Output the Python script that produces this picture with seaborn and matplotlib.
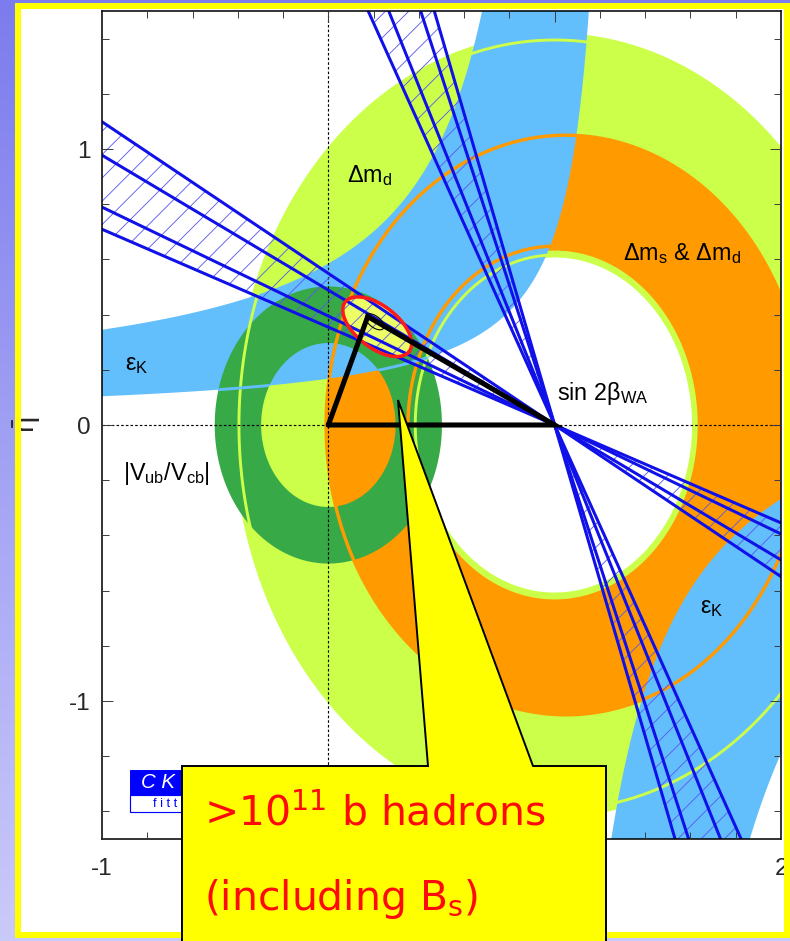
import numpy as np
import pandas as pd
import matplotlib
matplotlib.use("Agg")
import matplotlib.pyplot as plt
import seaborn as sns
from matplotlib.colors import LinearSegmentedColormap
from matplotlib.patches import PathPatch, Polygon, Rectangle
from matplotlib.path import Path
from matplotlib.ticker import FixedLocator, FixedFormatter, MultipleLocator

# ---------------------------------------------------------------------------
# Plane ranges and ticks
# ---------------------------------------------------------------------------
RHO_RANGE = (-1.0, 2.0)
ETA_RANGE = (-1.5, 1.5)
RHO_TICKS = [-1, 0, 1, 2]
RHO_TICK_LABELS = ["-1", "", "", "2"]   # 0 and 1 sit under the callout box
ETA_TICKS = [-1, 0, 1]
ETA_TICK_LABELS = ["-1", "0", "1"]
MINOR_STEP = 0.2

# Delta m_d annulus around (1, 0) and its contour lines
DMD_CENTRE = (1.0, 0.0)
DMD_RADII = (0.607, 1.42)
DMD_LINE_RADII = [0.616, 1.395]

# Delta m_s & Delta m_d: hole centred on (1, 0), elliptic outer boundary
DMS_HOLE_CENTRE = (1.0, 0.0)
DMS_HOLE_RADIUS = 0.632
DMS_OUTER_CENTRE = (1.05, 0.0)
DMS_OUTER_SEMIAXES = (1.06, 1.05)
DMS_LINE_RADIUS = 0.648

# |Vub/Vcb| annulus around the origin
VUB_CENTRE = (0.0, 0.0)
VUB_RADII = (0.297, 0.502)

# epsilon_K band edges, each  eta = c + k / (rho0 - rho)
EPSK_UPPER_EDGE = (0.095, 0.511, 1.043)
EPSK_LOWER_EDGE = (0.0224, 0.186, 1.277)
EPSK_SOUTH_UPPER = (0.30, 0.623, 0.904)
EPSK_SOUTH_LOWER = (0.30, 1.192, 1.200)

# sin 2beta world average: 2 sigma / 1 sigma limits
SIN2BETA_LIMITS = [0.630, 0.683, 0.789, 0.844]

# global fit: apex of the triangle and confidence contours
APEX = (0.174, 0.393)
FIT_CENTRE = (0.216, 0.356)
FIT_AXIS_A = (0.141, -0.090)
FIT_AXIS_B = (-0.057, -0.060)
CORE_CENTRE = (0.205, 0.374)
CORE_SCALE = 0.27

# ---------------------------------------------------------------------------
# Colours
# ---------------------------------------------------------------------------
LIGHT_GREEN = "#CCFF4A"
SKY = "#63BEFC"
ORANGE = "#FF9A00"
DARK_GREEN = "#37A947"
WEDGE_BLUE = "#1010E8"
HATCH_BLUE = "#5A5AEE"
FIT_FILL = "#EEFF66"
FIT_EDGE = "#FF1A1A"
CALLOUT_RED = "#FF0A0A"

sns.set_theme(style="ticks")
plt.rcParams.update({
    "font.family": ["Liberation Sans", "DejaVu Sans"],
    "mathtext.fontset": "custom",
    "mathtext.rm": "Liberation Sans",
    "mathtext.it": "Liberation Sans:italic",
    "mathtext.bf": "Liberation Sans:bold",
    "axes.unicode_minus": False,
    "hatch.linewidth": 0.9,
})


def ellipse_pts(centre, a, b, n=720):
    t = np.linspace(0.0, 2.0 * np.pi, n, endpoint=False)
    return np.column_stack([centre[0] + a * np.cos(t), centre[1] + b * np.sin(t)])


def closed(xy):
    return Path(np.vstack([xy, xy[:1]]), closed=True)


def ring_patch(outer, inner, **kw):
    return PathPatch(Path.make_compound_path(closed(outer), closed(inner[::-1])), **kw)


def edge_eta(params, rho):
    c, k, r0 = params
    return c + k / (r0 - rho)


def edge_rho(params, eta):
    c, k, r0 = params
    return r0 - k / (eta - c)


def contour_pts(centre, axis_a, axis_b, scale=1.0, n=360):
    t = np.linspace(0.0, 2.0 * np.pi, n)
    a = np.asarray(axis_a) * scale
    b = np.asarray(axis_b) * scale
    return (centre[0] + np.cos(t) * a[0] + np.sin(t) * b[0],
            centre[1] + np.cos(t) * a[1] + np.sin(t) * b[1])


def draw_loop(ax, pts, **kw):
    ax.plot(np.r_[pts[:, 0], pts[:1, 0]], np.r_[pts[:, 1], pts[:1, 1]], **kw)


DPI = 70
W, H = 790, 941
fig = plt.figure(figsize=(W / DPI, H / DPI), dpi=DPI)

# slide background
bg = fig.add_axes([0, 0, 1, 1], zorder=-10)
bg.imshow(np.linspace(0, 1, 256)[:, None], aspect="auto", extent=[0, 1, 0, 1],
          cmap=LinearSegmentedColormap.from_list("slide", ["#7C7CEE", "#CACAFA"]))
bg.set_xlim(0, 1)
bg.set_ylim(0, 1)
bg.set_axis_off()
bg.add_patch(Rectangle((15 / W, 3 / H), 1.0, 935 / H, facecolor="white",
                       edgecolor="none", zorder=3))

ax = fig.add_axes([102 / W, (H - 839) / H, 679 / W, 828 / H])
ax.set_facecolor("white")

lo_r, hi_r = RHO_RANGE[0] - 0.1, RHO_RANGE[1] + 0.1
lo_e, hi_e = ETA_RANGE[0] - 0.1, ETA_RANGE[1] + 0.1

# --- Delta m_d -------------------------------------------------------------
ax.add_patch(ring_patch(ellipse_pts(DMD_CENTRE, DMD_RADII[1], DMD_RADII[1]),
                        ellipse_pts(DMD_CENTRE, DMD_RADII[0], DMD_RADII[0]),
                        facecolor=LIGHT_GREEN, edgecolor="none", zorder=1))

# --- Delta m_s & Delta m_d -------------------------------------------------
ax.add_patch(ring_patch(ellipse_pts(DMS_OUTER_CENTRE, *DMS_OUTER_SEMIAXES),
                        ellipse_pts(DMS_HOLE_CENTRE, DMS_HOLE_RADIUS, DMS_HOLE_RADIUS),
                        facecolor=ORANGE, edgecolor="none", zorder=2))

# --- epsilon_K -------------------------------------------------------------
rho_u = np.linspace(lo_r, edge_rho(EPSK_UPPER_EDGE, hi_e), 400)
rho_l = np.linspace(edge_rho(EPSK_LOWER_EDGE, hi_e), lo_r, 400)
north = np.column_stack([np.r_[rho_u, rho_l],
                         np.r_[edge_eta(EPSK_UPPER_EDGE, rho_u), edge_eta(EPSK_LOWER_EDGE, rho_l)]])
ax.add_patch(Polygon(north, closed=True, facecolor=SKY, edgecolor="none", zorder=3))

rho_a = np.linspace(edge_rho(EPSK_SOUTH_UPPER, lo_e), hi_r, 300)
rho_b = np.linspace(hi_r, edge_rho(EPSK_SOUTH_LOWER, lo_e), 300)
south = np.column_stack([np.r_[rho_a, rho_b],
                         np.r_[edge_eta(EPSK_SOUTH_UPPER, rho_a), edge_eta(EPSK_SOUTH_LOWER, rho_b)]])
ax.add_patch(Polygon(south, closed=True, facecolor=SKY, edgecolor="none", zorder=3))

# --- |Vub/Vcb| -------------------------------------------------------------
vub = ring_patch(ellipse_pts(VUB_CENTRE, VUB_RADII[1], VUB_RADII[1]),
                 ellipse_pts(VUB_CENTRE, VUB_RADII[0], VUB_RADII[0]),
                 facecolor=DARK_GREEN, edgecolor="none", zorder=4)
ax.add_patch(vub)

# --- contour lines showing through the upper layers --------------------------
for r in DMD_LINE_RADII:
    draw_loop(ax, ellipse_pts(DMD_CENTRE, r, r), color=LIGHT_GREEN, lw=3, zorder=5)
draw_loop(ax, ellipse_pts(DMS_OUTER_CENTRE, *DMS_OUTER_SEMIAXES), color=ORANGE, lw=3.5, zorder=5)
draw_loop(ax, ellipse_pts(DMS_HOLE_CENTRE, DMS_LINE_RADIUS, DMS_LINE_RADIUS),
          color=ORANGE, lw=3.5, zorder=5)
rho_edge = np.linspace(RHO_RANGE[0], 0.9, 400)
edge_line, = ax.plot(rho_edge, edge_eta(EPSK_LOWER_EDGE, rho_edge), color=SKY, lw=3, zorder=5)
edge_line.set_clip_path(vub)

# dotted axes through the origin
ax.axhline(0, color="black", lw=1.2, ls=(0, (2.2, 1.8)), zorder=5.5)
ax.axvline(0, color="black", lw=1.2, ls=(0, (2.2, 1.8)), zorder=5.5)

# --- global fit region ------------------------------------------------------
fx, fy = contour_pts(FIT_CENTRE, FIT_AXIS_A, FIT_AXIS_B)
ax.fill(fx, fy, facecolor=FIT_FILL, edgecolor="none", zorder=6)

# --- sin 2beta --------------------------------------------------------------
tans = np.tan(0.5 * np.arcsin(np.asarray(SIN2BETA_LIMITS)))
t_lo, t_hi = tans.min(), tans.max()
wedges = [
    [(1, 0), (lo_r, t_hi * (1 - lo_r)), (lo_r, t_lo * (1 - lo_r))],
    [(1, 0), (hi_r, t_lo * (1 - hi_r)), (hi_r, t_hi * (1 - hi_r))],
    [(1, 0), (1 - hi_e * t_lo, hi_e), (1 - hi_e * t_hi, hi_e)],
    [(1, 0), (1 - lo_e * t_lo, lo_e), (1 - lo_e * t_hi, lo_e)],
]
for w in wedges:
    ax.add_patch(Polygon(w, closed=True, facecolor="none", edgecolor=HATCH_BLUE,
                         lw=0, hatch="/", zorder=7))

rows = []
for i, t in enumerate(tans):
    rows += [dict(rho=lo_r, eta=t * (1 - lo_r), seg=f"s{i}"),
             dict(rho=hi_r, eta=t * (1 - hi_r), seg=f"s{i}"),
             dict(rho=1 - hi_e * t, eta=hi_e, seg=f"c{i}"),
             dict(rho=1 - lo_e * t, eta=lo_e, seg=f"c{i}")]
wedge_lines = pd.DataFrame(rows)
sns.lineplot(data=wedge_lines, x="rho", y="eta", units="seg", estimator=None, sort=False,
             color=WEDGE_BLUE, lw=3.1, legend=False, zorder=8, ax=ax)

ax.plot(fx, fy, color=FIT_EDGE, lw=3.6, zorder=9)
cx, cy = contour_pts(CORE_CENTRE, FIT_AXIS_A, FIT_AXIS_B, scale=CORE_SCALE)
ax.plot(cx, cy, color="black", lw=1.1, zorder=10.5)

# --- unitarity triangle -----------------------------------------------------
triangle = pd.DataFrame({"rho": [0.0, 1.0, APEX[0], 0.0],
                         "eta": [0.0, 0.0, APEX[1], 0.0]})
sns.lineplot(data=triangle, x="rho", y="eta", sort=False, estimator=None, color="black",
             lw=5.2, legend=False, zorder=10, ax=ax, solid_joinstyle="miter")

# --- labels -----------------------------------------------------------------
lab = dict(fontsize=24, color="black", ha="left", va="baseline", zorder=12)
ax.text(0.082, 0.879, "Δm$_\\mathrm{d}$", **lab)
ax.text(1.300, 0.599, "Δm$_\\mathrm{s}$ & Δm$_\\mathrm{d}$", **lab)
ax.text(-0.898, 0.200, "ε$_\\mathrm{K}$", **lab)
ax.text(-0.907, -0.198, "|V$_\\mathrm{ub}$/V$_\\mathrm{cb}$|", **lab)
ax.text(1.009, 0.092, "sin 2β$_\\mathrm{WA}$", **lab)
ax.text(1.640, -0.682, "ε$_\\mathrm{K}$", **lab)

# CKMfitter badge
ax.add_patch(Rectangle((0.0412, 0.0531), 0.15, 0.0302, transform=ax.transAxes,
                       facecolor="#0000FF", edgecolor="#0000FF", lw=1, zorder=12))
ax.add_patch(Rectangle((0.0412, 0.0326), 0.15, 0.0205, transform=ax.transAxes,
                       facecolor="white", edgecolor="#0000FF", lw=1.2, zorder=12))
ax.text(0.0575, 0.0685, "C K M", transform=ax.transAxes, fontsize=21, style="italic",
        color="white", va="center", ha="left", zorder=13)
ax.text(0.075, 0.0425, "f i t t e r", transform=ax.transAxes, fontsize=13,
        color="#0000FF", va="center", ha="left", zorder=13)

# --- axes cosmetics ---------------------------------------------------------
ax.set_xlim(*RHO_RANGE)
ax.set_ylim(*ETA_RANGE)
ax.xaxis.set_major_locator(FixedLocator(RHO_TICKS))
ax.xaxis.set_major_formatter(FixedFormatter(RHO_TICK_LABELS))
ax.yaxis.set_major_locator(FixedLocator(ETA_TICKS))
ax.yaxis.set_major_formatter(FixedFormatter(ETA_TICK_LABELS))
ax.xaxis.set_minor_locator(MultipleLocator(MINOR_STEP))
ax.yaxis.set_minor_locator(MultipleLocator(MINOR_STEP))
ax.tick_params(which="both", direction="in", top=True, right=True, color="#3a3a3a", width=1.0)
ax.tick_params(which="major", length=11.5)
ax.tick_params(which="minor", length=7)
ax.tick_params(axis="x", which="major", pad=20, labelsize=25)
ax.tick_params(axis="y", which="major", pad=11.5, labelsize=25)
ax.set_xlabel("")
ax.set_ylabel(r"$\mathrm{\bar{\eta}}$", fontsize=30, rotation=90)
ax.yaxis.set_label_coords(-0.087, 0.5)
ax.xaxis.set_zorder(30)
ax.yaxis.set_zorder(30)
for s in ax.spines.values():
    s.set_linewidth(1.6)
    s.set_color("black")
    s.set_zorder(30)

# --- yellow frame of the slide picture ---------------------------------------
fig.add_artist(Rectangle((18 / W, 6 / H), 768.5 / W, 929 / H, transform=fig.transFigure,
                         facecolor="none", edgecolor="#FFFF00", lw=6.2, zorder=15))

# --- callout ----------------------------------------------------------------
callout = [(182 / W, 1 - 766 / H), (428 / W, 1 - 766 / H), (398 / W, 1 - 400 / H),
           (533 / W, 1 - 766 / H), (606 / W, 1 - 766 / H), (606 / W, -0.02),
           (182 / W, -0.02)]
fig.add_artist(Polygon(callout, closed=True, transform=fig.transFigure, facecolor="#FFFF00",
                       edgecolor="black", lw=2.0, joinstyle="miter", zorder=20))
ctext = dict(color=CALLOUT_RED, fontsize=42, family="DejaVu Sans", math_fontfamily="dejavusans",
             ha="left", va="baseline", zorder=21)
fig.text(204 / W, 1 - 825 / H, r">10$^{\mathrm{11}}$ b hadrons", **ctext)
fig.text(204 / W, 1 - 910 / H, r"(including B$_{\mathrm{s}}$)", **ctext)

fig.savefig("out.png", dpi=DPI)
